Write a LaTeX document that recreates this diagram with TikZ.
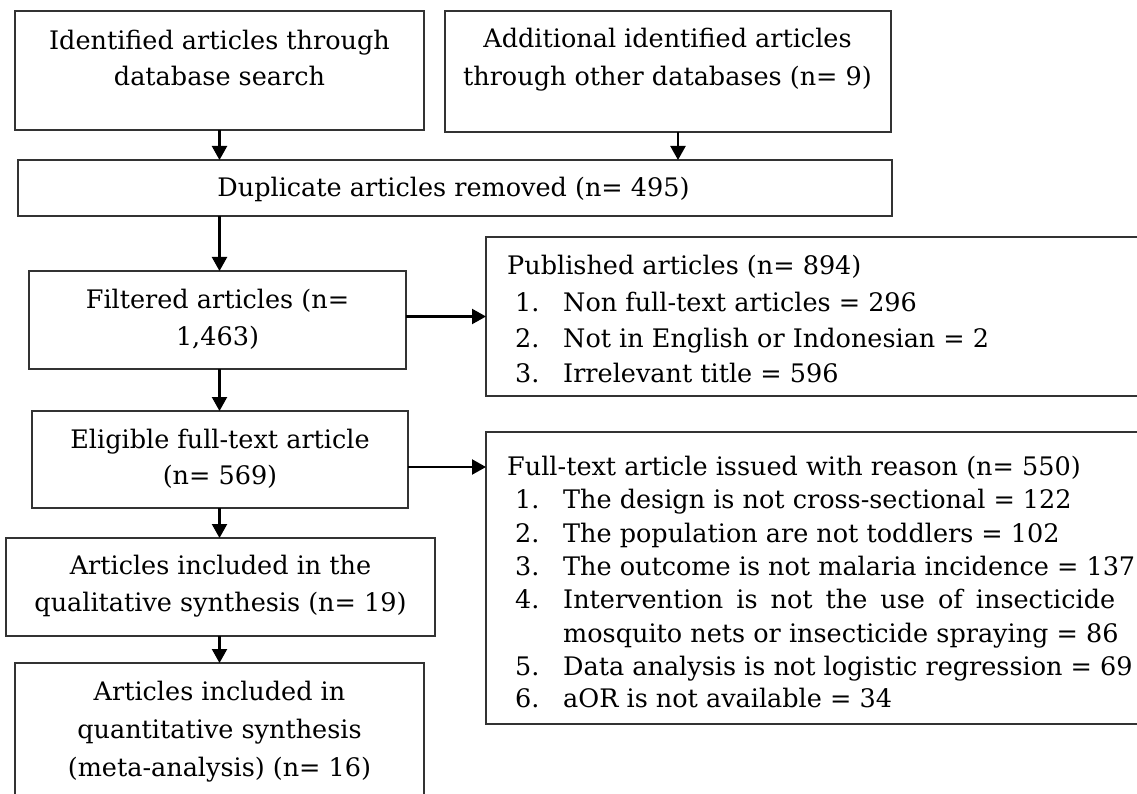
\documentclass[tikz,border=0pt]{standalone}
\usepackage{fontspec}
\setmainfont{DejaVu Serif}
\usetikzlibrary{arrows.meta}
\begin{document}
\begin{tikzpicture}[x=1pt,y=-1pt,
  box/.style={draw=black!80,line width=1.3pt,inner sep=0pt,outer sep=0pt,anchor=north west},
  arr/.style={line width=2.2pt,-{Triangle[width=15pt,length=14pt]}},
  txt/.style={inner sep=0pt,anchor=base,font=\fontsize{25.5}{30}\selectfont},
  ltxt/.style={txt,anchor=base west}]
\clip (0,0) rectangle (1137,794);
% boxes
\node[box,minimum width=409pt,minimum height=119pt] (b1) at (15,11) {};
\node[box,minimum width=446pt,minimum height=121pt] (b2) at (445,11) {};
\node[box,minimum width=874pt,minimum height=56pt] (dup) at (18,160) {};
\node[box,minimum width=377pt,minimum height=98pt] (filt) at (29,271) {};
\node[box,minimum width=376pt,minimum height=97pt] (elig) at (32,411) {};
\node[box,minimum width=429pt,minimum height=98pt] (qual) at (6,538) {};
\node[box,minimum width=409pt,minimum height=170pt] (quant) at (15,663) {};
\node[box,minimum width=700pt,minimum height=159pt] (pub) at (486,237) {};
\node[box,minimum width=700pt,minimum height=292pt] (full) at (486,432) {};
% texts left column
\node[txt] (t1a) at (219.5,50) {Identified articles through};
\node[txt] (t1b) at (219.5,86) {database search};
\node[txt] (t2a) at (667.5,48) {Additional identified articles};
\node[txt] (t2b) at (667.5,86) {through other databases (n= 9)};
\node[txt] (t3) at (453.5,197) {Duplicate articles removed (n= 495)};
\node[txt] (t4a) at (217.5,308) {Filtered articles (n=};
\node[txt] (t4b) at (217.5,345) {1,463)};
\node[txt] (t5a) at (220,448) {Eligible full-text article};
\node[txt] (t5b) at (220,484) {(n= 569)};
\node[txt] (t6a) at (220.5,574) {Articles included in the};
\node[txt] (t6b) at (220.5,611) {qualitative synthesis (n= 19)};
\node[txt] (t7a) at (219.5,700) {Articles included in};
\node[txt] (t7b) at (219.5,738) {quantitative synthesis};
\node[txt] (t7c) at (219.5,776) {(meta-analysis) (n= 16)};
% texts right
\node[ltxt] (p0) at (507,274) {Published articles (n= 894)};
\node[ltxt] (p1n) at (515,311) {1.};
\node[ltxt] (p1) at (563,311) {Non full-text articles = 296};
\node[ltxt] (p2n) at (515,347) {2.};
\node[ltxt] (p2) at (563,347) {Not in English or Indonesian = 2};
\node[ltxt] (p3n) at (515,382) {3.};
\node[ltxt] (p3) at (563,382) {Irrelevant title = 596};
\node[ltxt] (f0) at (507,475) {Full-text article issued with reason (n= 550)};
\node[ltxt] (f1n) at (515,508) {1.};
\node[ltxt] (f1) at (563,508) {The design is not cross-sectional = 122};
\node[ltxt] (f2n) at (515,542) {2.};
\node[ltxt] (f2) at (563,542) {The population are not toddlers = 102};
\node[ltxt] (f3n) at (515,575) {3.};
\node[ltxt] (f3) at (563,575) {The outcome is not malaria incidence = 137};
\node[ltxt] (f4n) at (515,608) {4.};
\node[ltxt] (f4) at (563,608) {\makebox[552pt][s]{Intervention\hfill is\hfill not\hfill the\hfill use\hfill of\hfill insecticide}};
\node[ltxt] (f4b) at (563,642) {mosquito nets or insecticide spraying = 86};
\node[ltxt] (f5n) at (515,675) {5.};
\node[ltxt] (f5) at (563,675) {Data analysis is not logistic regression = 69};
\node[ltxt] (f6n) at (515,707) {6.};
\node[ltxt] (f6) at (563,707) {aOR is not available = 34};
% connectors
\draw[arr] (b1.south) -- (dup.north -| b1.south);
\draw[arr] (b2.south -| 678,0) -- (dup.north -| 678,0);
\draw[arr] (dup.south -| b1.south) -- (filt.north -| b1.south);
\draw[arr] (filt.south -| b1.south) -- (elig.north -| b1.south);
\draw[arr] (elig.south -| b1.south) -- (qual.north -| b1.south);
\draw[arr] (qual.south -| b1.south) -- (quant.north -| b1.south);
\draw[arr] (filt.east |- pub.west) -- (pub.west);
\draw[arr] (elig.east |- 0,467) -- (full.west |- 0,467);
\end{tikzpicture}
\end{document}
